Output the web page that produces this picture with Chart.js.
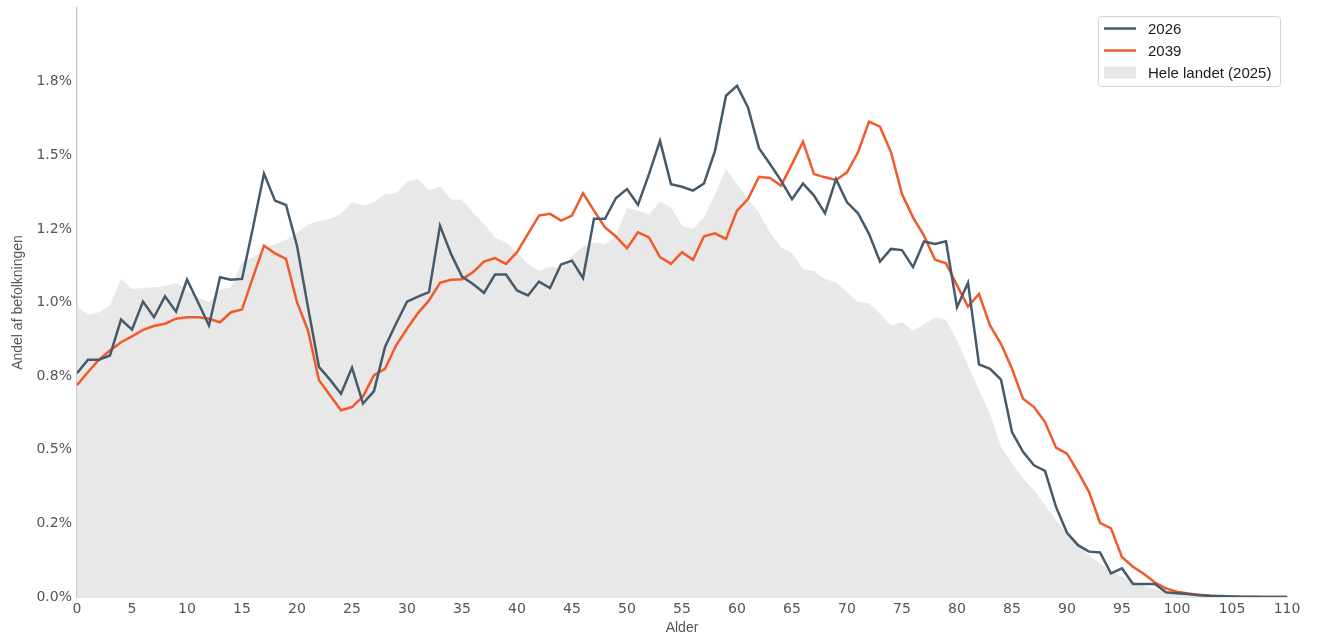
<!DOCTYPE html>
<html>
<head>
<meta charset="utf-8">
<script src="https://cdn.jsdelivr.net/npm/chart.js@4.4.1/dist/chart.umd.min.js"></script>
<style>
  html, body { margin: 0; padding: 0; background: #ffffff; }
  #wrap { width: 1318px; height: 637px; position: relative; }
</style>
</head>
<body>
<div id="wrap"><canvas id="c"></canvas></div>
<script>
// ---- Data (percent of population by age) ----
const ages = [0,1,2,3,4,5,6,7,8,9,10,11,12,13,14,15,16,17,18,19,20,21,22,23,24,25,26,27,28,29,30,31,32,33,34,35,36,37,38,39,40,41,42,43,44,45,46,47,48,49,50,51,52,53,54,55,56,57,58,59,60,61,62,63,64,65,66,67,68,69,70,71,72,73,74,75,76,77,78,79,80,81,82,83,84,85,86,87,88,89,90,91,92,93,94,95,96,97,98,99,100,101,102,103,104,105,106,107,108,109,110];

const series2026 = [0.760,0.806,0.806,0.820,0.942,0.908,1.003,0.950,1.021,0.969,1.078,1.001,0.922,1.086,1.077,1.080,1.255,1.438,1.346,1.331,1.193,0.984,0.781,0.738,0.690,0.779,0.657,0.699,0.849,0.928,1.003,1.020,1.035,1.261,1.165,1.088,1.063,1.033,1.095,1.095,1.041,1.024,1.071,1.049,1.129,1.142,1.083,1.284,1.284,1.355,1.385,1.332,1.436,1.549,1.402,1.393,1.380,1.404,1.515,1.702,1.736,1.662,1.524,1.470,1.414,1.351,1.404,1.363,1.303,1.419,1.340,1.303,1.233,1.139,1.182,1.178,1.120,1.207,1.199,1.208,0.984,1.067,0.790,0.775,0.738,0.560,0.493,0.447,0.428,0.306,0.218,0.176,0.154,0.151,0.080,0.097,0.044,0.044,0.044,0.016,0.013,0.010,0.006,0.004,0.003,0.002,0.001,0.001,0,0,0];

const series2039 = [0.719,0.764,0.806,0.837,0.865,0.885,0.907,0.920,0.928,0.945,0.950,0.950,0.945,0.933,0.967,0.976,1.086,1.193,1.167,1.148,1.001,0.905,0.736,0.685,0.634,0.645,0.681,0.753,0.775,0.854,0.911,0.964,1.007,1.067,1.077,1.079,1.103,1.139,1.151,1.131,1.171,1.233,1.295,1.301,1.278,1.295,1.371,1.312,1.255,1.224,1.184,1.238,1.221,1.154,1.131,1.171,1.145,1.225,1.235,1.216,1.312,1.351,1.427,1.423,1.397,1.470,1.546,1.436,1.425,1.416,1.442,1.510,1.614,1.597,1.510,1.368,1.289,1.227,1.145,1.133,1.058,0.986,1.029,0.922,0.860,0.775,0.673,0.645,0.594,0.507,0.487,0.425,0.357,0.252,0.233,0.135,0.103,0.078,0.049,0.029,0.018,0.012,0.008,0.004,0.002,0.001,0,0,0,0,0];

const seriesLandet = [0.986,0.959,0.967,0.990,1.080,1.046,1.049,1.052,1.055,1.066,1.043,1.018,1.001,1.043,1.052,1.137,1.154,1.176,1.199,1.212,1.238,1.264,1.276,1.284,1.301,1.340,1.329,1.340,1.368,1.371,1.410,1.419,1.380,1.394,1.351,1.349,1.306,1.267,1.221,1.204,1.171,1.131,1.108,1.122,1.114,1.159,1.190,1.204,1.199,1.227,1.321,1.312,1.298,1.343,1.323,1.261,1.250,1.289,1.368,1.453,1.402,1.351,1.306,1.238,1.188,1.167,1.114,1.106,1.080,1.069,1.035,1.001,0.998,0.962,0.922,0.933,0.905,0.925,0.950,0.941,0.871,0.786,0.702,0.623,0.510,0.453,0.402,0.363,0.312,0.261,0.216,0.176,0.142,0.114,0.089,0.069,0.052,0.037,0.026,0.018,0.012,0.008,0.005,0.003,0.002,0.001,0,0,0,0,0];

const seriesNames = ['2026', '2039', 'Hele landet (2025)'];
const yTickLabels = ['0.0%','0.2%','0.5%','0.8%','1.0%','1.2%','1.5%','1.8%'];
const yTitle = 'Andel af befolkningen';
const xTitle = 'Alder';

// ---- Styles ----
const colors = { s2026: '#455a6a', s2039: '#f15a29', area: '#e8e8e8' };
const toPts = (arr) => ages.map((a, i) => ({ x: a, y: arr[i] }));

const legendPlugin = {
  id: 'boxLegend',
  afterDraw(chart) {
    const ctx = chart.ctx;
    const bx = 1098.5, by = 16.5, bw = 182, bh = 70;
    ctx.save();
    ctx.fillStyle = '#ffffff';
    ctx.strokeStyle = '#d4d4d4';
    ctx.lineWidth = 1;
    ctx.beginPath();
    ctx.roundRect(bx, by, bw, bh, 3);
    ctx.fill();
    ctx.stroke();
    ctx.font = '15px "Liberation Sans", Arial, sans-serif';
    ctx.textBaseline = 'middle';
    ctx.fillStyle = '#1a1a1a';
    const rows = [28.5, 50.5, 72.5];
    const ds = chart.data.datasets;
    for (let i = 0; i < 2; i++) {
      ctx.strokeStyle = ds[i].borderColor;
      ctx.lineWidth = 2.5;
      ctx.beginPath();
      ctx.moveTo(1104, rows[i]);
      ctx.lineTo(1136, rows[i]);
      ctx.stroke();
      ctx.fillText(ds[i].label, 1148, rows[i] + 1);
    }
    ctx.fillStyle = ds[2].backgroundColor;
    ctx.fillRect(1104, rows[2] - 6, 32, 12);
    ctx.fillStyle = '#1a1a1a';
    ctx.fillText(ds[2].label, 1148, rows[2] + 1);
    ctx.restore();
  }
};

const tickFont = { family: '"DejaVu Sans", sans-serif', size: 14 };
const titleFont = { family: '"Liberation Sans", Arial, sans-serif', size: 14 };

new Chart(document.getElementById('c'), {
  type: 'line',
  data: {
    datasets: [
      { label: seriesNames[0], data: toPts(series2026), borderColor: colors.s2026, borderWidth: 2.5, pointRadius: 0, fill: false, tension: 0 },
      { label: seriesNames[1], data: toPts(series2039), borderColor: colors.s2039, borderWidth: 2.5, pointRadius: 0, fill: false, tension: 0 },
      { label: seriesNames[2], data: toPts(seriesLandet), borderColor: 'rgba(0,0,0,0)', backgroundColor: colors.area, borderWidth: 0, pointRadius: 0, fill: 'origin', tension: 0 }
    ]
  },
  options: {
    responsive: true,
    maintainAspectRatio: false,
    animation: false,
    layout: { padding: { top: 8, right: 31, left: 0, bottom: 0 } },
    plugins: { legend: { display: false }, tooltip: { enabled: false } },
    scales: {
      x: {
        type: 'linear', min: 0, max: 110,
        grid: { display: false, drawTicks: false },
        border: { display: true, color: '#cccccc', width: 1.5 },
        ticks: { stepSize: 5, padding: 4, color: '#555555', font: tickFont, maxRotation: 0 },
        title: { display: true, text: xTitle, color: '#555555', font: titleFont, padding: { top: 0, bottom: 0 } },
        afterFit(scale) { scale.height = 40; scale.paddingLeft = 0; scale.paddingRight = 0; }
      },
      y: {
        min: 0, max: 2.0,
        grid: { display: false, drawTicks: false },
        border: { display: true, color: '#cccccc', width: 1.5 },
        ticks: { stepSize: 0.25, padding: 5, color: '#555555', font: tickFont,
          callback: (v, i) => yTickLabels[i] || '' },
        title: { display: true, text: yTitle, color: '#555555', font: titleFont, padding: { top: 10, bottom: 0 } },
        afterFit(scale) { scale.width = 77; scale.paddingTop = 0; scale.paddingBottom = 0; }
      }
    }
  },
  plugins: [legendPlugin]
});
</script>
</body>
</html>
